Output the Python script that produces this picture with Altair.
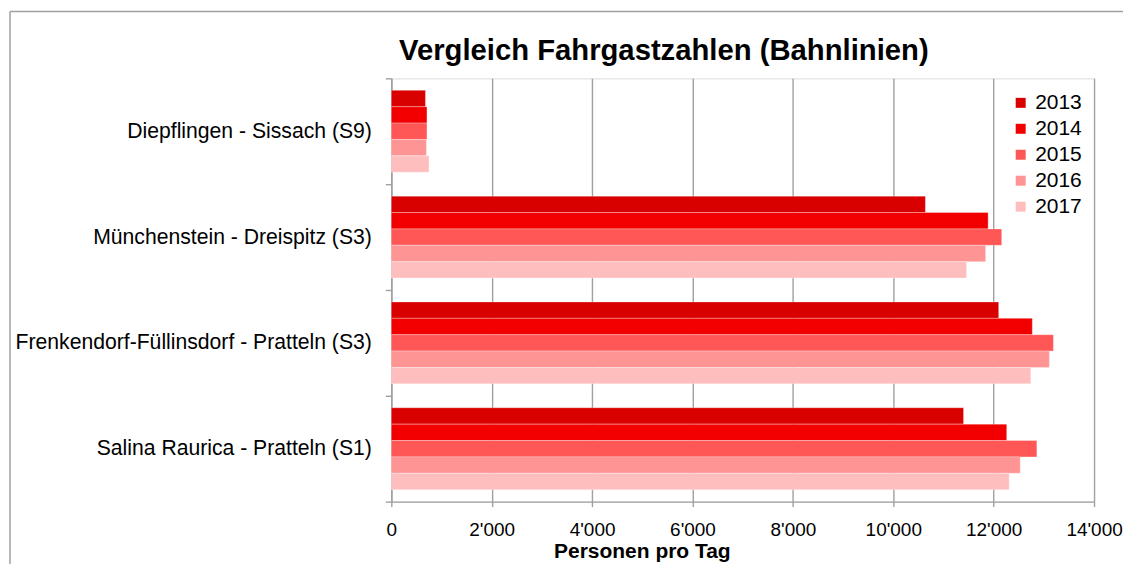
import altair as alt
import pandas as pd

categories = [
    "Diepflingen - Sissach (S9)",
    "Münchenstein - Dreispitz (S3)",
    "Frenkendorf-Füllinsdorf - Pratteln (S3)",
    "Salina Raurica - Pratteln (S1)",
]
years = ["2013", "2014", "2015", "2016", "2017"]
values_2013 = [680, 10640, 12100, 11400]
values_2014 = [710, 11890, 12770, 12260]
values_2015 = [710, 12160, 13190, 12860]
values_2016 = [700, 11840, 13110, 12530]
values_2017 = [750, 11460, 12740, 12310]
colors = ["#d90000", "#f20000", "#ff5656", "#ff9494", "#ffbebe"]
x_ticks = [0, 2000, 4000, 6000, 8000, 10000, 12000, 14000]

series = [values_2013, values_2014, values_2015, values_2016, values_2017]
rows = []
for yr, vals in zip(years, series):
    for cat, v in zip(categories, vals):
        rows.append({"Strecke": cat, "Jahr": yr, "Personen": v})
df = pd.DataFrame(rows)

FONT = "Liberation Sans"
GRID = "#a0a0a0"

bars = alt.Chart(df).mark_bar(stroke="white", strokeWidth=0.6, strokeOpacity=0.5).encode(
    x=alt.X(
        "Personen:Q",
        scale=alt.Scale(domain=[0, 14000], nice=False),
        axis=alt.Axis(
            values=x_ticks,
            labelExpr="replace(format(datum.value, ','), ',', \"'\")",
            title="Personen  pro Tag",
            titleFont=FONT,
            titleFontSize=21,
            titleFontWeight="bold",
            titleColor="black",
            titleX=251,
            titleY=56,
            titleAlign="center",
            titleBaseline="alphabetic",
            labelFont=FONT,
            labelFontSize=19,
            labelColor="black",
            labelPadding=14,
            labelFlush=False,
            labelOverlap=False,
            grid=True,
            gridColor=GRID,
            gridWidth=1.4,
            domainColor=GRID,
            domainWidth=1.4,
            tickColor=GRID,
            tickWidth=1.4,
            tickSize=5,
        ),
    ),
    y=alt.Y(
        "Strecke:N",
        sort=categories,
        scale=alt.Scale(paddingInner=0, paddingOuter=0),
        axis=alt.Axis(
            title=None,
            tickBand="extent",
            tickSize=6,
            tickColor=GRID,
            tickWidth=1.4,
            domainColor=GRID,
            domainWidth=1.4,
            labelFont=FONT,
            labelFontSize=21.2,
            labelColor="black",
            labelPadding=14,
            grid=False,
            labelLimit=500,
        ),
    ),
    yOffset=alt.YOffset("Jahr:N", sort=years, scale=alt.Scale(paddingInner=0, paddingOuter=0.73)),
    color=alt.Color(
        "Jahr:N",
        sort=years,
        scale=alt.Scale(domain=years, range=colors),
        legend=alt.Legend(
            title=None,
            orient="none",
            legendX=620,
            legendY=14,
            symbolType="square",
            symbolSize=100,
            symbolStrokeWidth=0,
            labelFont=FONT,
            labelFontSize=21,
            labelColor="black",
            labelOffset=4,
            rowPadding=4,
        ),
    ),
)

frame_df = pd.DataFrame({"k": [0]})
frame_v = alt.Chart(frame_df).mark_rule(color="#a0a0a0", strokeWidth=1.5).encode(
    x=alt.value(-382), y=alt.value(-67), y2=alt.value(600)
)
frame_h = alt.Chart(frame_df).mark_rule(color="#a0a0a0", strokeWidth=1.5).encode(
    x=alt.value(-382), x2=alt.value(800), y=alt.value(-67)
)

chart = alt.layer(frame_v, frame_h, bars).properties(
    width=704,
    height=424,
    autosize=alt.AutoSizeParams(type="none"),
    padding={"left": 384, "top": 70, "right": 29, "bottom": 62},
    title=alt.TitleParams(
        text="Vergleich Fahrgastzahlen (Bahnlinien)",
        font=FONT,
        fontSize=29.3,
        fontWeight="bold",
        color="black",
        anchor="middle",
        frame="group",
        baseline="alphabetic",
        dx=-79,
        dy=79,
        offset=0,
    ),
).configure_view(stroke=None).configure(background="white")

chart.save("out.html", embed_options={"renderer": "svg", "actions": False})
